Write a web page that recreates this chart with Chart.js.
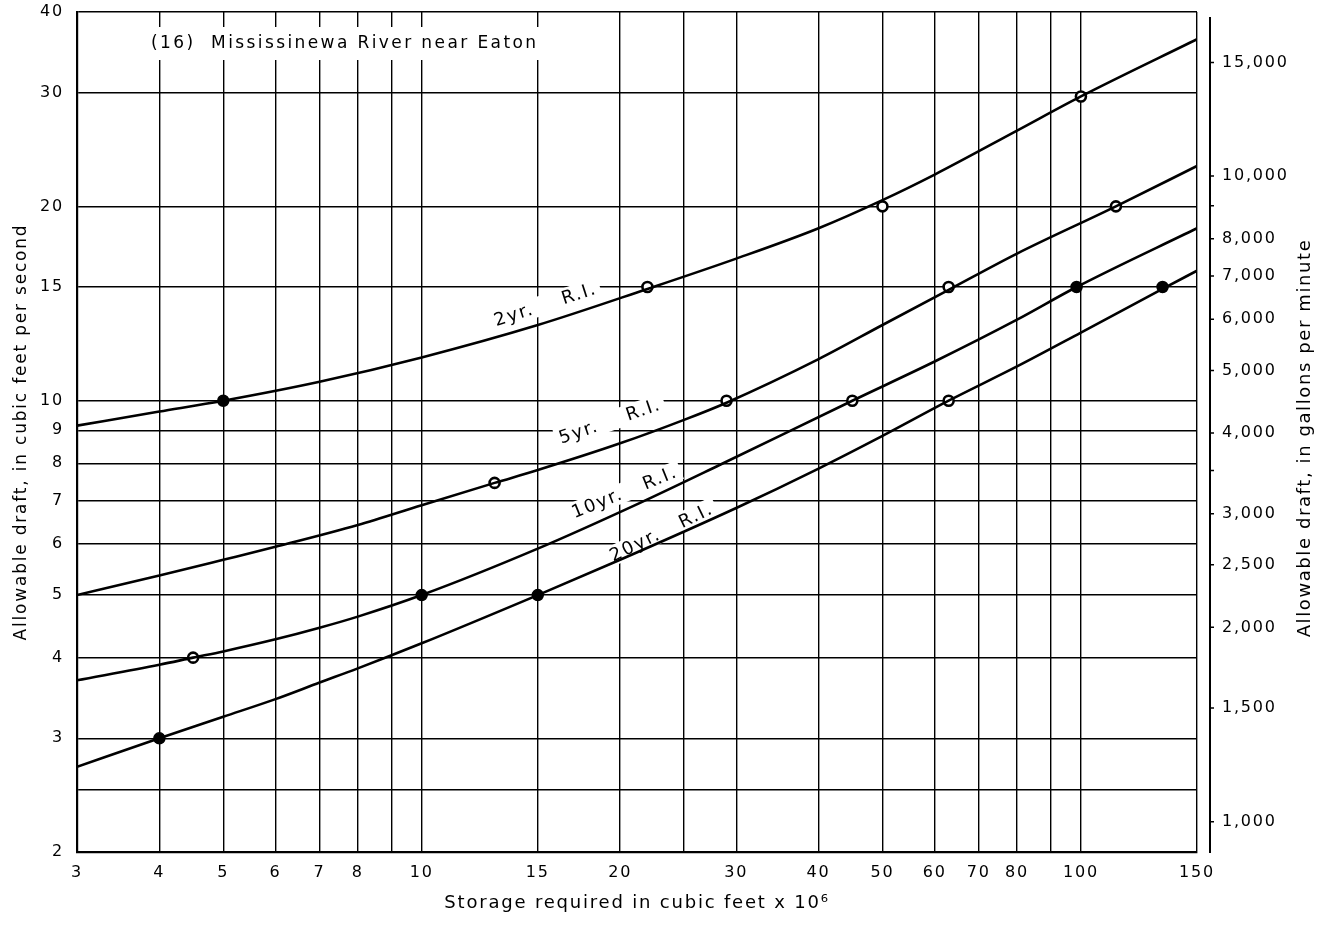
<!DOCTYPE html>
<html>
<head>
<meta charset="utf-8">
<script src="https://cdn.jsdelivr.net/npm/chart.js@4.4.1/dist/chart.umd.min.js"></script>
<style>
  html, body { margin: 0; padding: 0; background: #fff; }
  #wrap { width: 1325px; height: 930px; }
</style>
</head>
<body>
<div id="wrap"><canvas id="chart"></canvas></div>
<script>
// Axis grid and tick labels
const xGridValues = [3, 4, 5, 6, 7, 8, 9, 10, 15, 20, 25, 30, 40, 50, 60, 70, 80, 90, 100, 150];
const xTickLabels = [3, 4, 5, 6, 7, 8, 10, 15, 20, 30, 40, 50, 60, 70, 80, 100, 150];
const yGridValues = [2, 2.5, 3, 4, 5, 6, 7, 8, 9, 10, 15, 20, 30, 40];
const yTickLabels = [2, 3, 4, 5, 6, 7, 8, 9, 10, 15, 20, 30, 40];
const gpmTicks = [1000, 1500, 2000, 2500, 3000, 3500, 4000, 5000, 6000, 7000, 8000, 9000, 10000, 15000];
const gpmLabels = [1000, 1500, 2000, 2500, 3000, 4000, 5000, 6000, 7000, 8000, 10000, 15000];
const GPM_PER_CFS = 448.83;

// Curves (storage x 10^6 cu ft, draft cfs)
const ri2x = [3, 4, 5, 7, 10, 15, 22, 30, 40, 50, 60, 80, 100, 150];
const ri2y = [9.15, 9.62, 10.0, 10.7, 11.67, 13.1, 14.9, 16.6, 18.5, 20.45, 22.4, 26.2, 29.6, 36.3];
const ri5x = [3, 4, 5, 6, 8, 10, 12.9, 15, 20, 25, 29, 40, 50, 63, 80, 113, 150];
const ri5y = [5.0, 5.36, 5.67, 5.94, 6.42, 6.89, 7.46, 7.81, 8.59, 9.34, 9.93, 11.6, 13.1, 14.85, 16.9, 20.0, 23.1];
const ri10x = [3, 4, 4.5, 5, 6, 7, 8, 10, 15, 21.4, 28.3, 45, 60, 80, 98.5, 150];
const ri10y = [3.69, 3.90, 4.0, 4.09, 4.27, 4.45, 4.63, 5.0, 5.9, 6.94, 7.95, 10.0, 11.5, 13.35, 15.0, 18.5];
const ri20x = [3, 4, 5, 6, 7, 8, 10, 15, 20, 30, 40, 50, 63, 80, 100, 133, 150];
const ri20y = [2.71, 3.0, 3.24, 3.45, 3.66, 3.85, 4.21, 5.0, 5.67, 6.82, 7.85, 8.82, 10.0, 11.3, 12.75, 14.9, 15.9];

// Plotted points
const openX = [22, 50, 100, 12.9, 29, 63, 113, 4.5, 45, 63];
const openY = [15, 20, 29.6, 7.46, 10, 15, 20, 4.0, 10, 10];
const solidX = [5, 10, 15, 4, 98.5, 133];
const solidY = [10, 5, 5, 3, 15, 15];

// Curve labels: text, position (data units), rotation in degrees
const curveLabels = [
  { text: "2yr.    R.I.", x: 15.4, y: 14.1, angle: -18 },
  { text: "5yr.    R.I.", x: 19.3, y: 9.3, angle: -19 },
  { text: "10yr.   R.I.", x: 20.3, y: 7.22, angle: -22 },
  { text: "20yr.   R.I.", x: 23.1, y: 6.26, angle: -26 },
];

const titleText = "(16)  Mississinewa River near Eaton";
const FONT = "'DejaVu Sans', sans-serif";

function pts(xs, ys) {
  return xs.map((x, i) => ({ x: x, y: ys[i] }));
}

function curve(xs, ys) {
  return {
    data: pts(xs, ys),
    showLine: true,
    borderColor: "#000",
    borderWidth: 2.6,
    pointRadius: 0,
    cubicInterpolationMode: "monotone",
    fill: false,
  };
}

// no extra room for the end labels, the plot box is fixed
function noPad(scale) {
  scale.paddingTop = 0;
  scale.paddingBottom = 0;
  scale.paddingLeft = 0;
  scale.paddingRight = 0;
}

// Letter spacing to mimic the wide drafting lettering
const spacingPlugin = {
  id: "spacing",
  beforeDraw(chart) {
    chart.ctx.letterSpacing = "1.8px";
  },
};

// White boxes behind labels (break the grid), then the text
const labelsPlugin = {
  id: "labels",
  beforeDatasetsDraw(chart) {
    const { ctx, scales } = chart;
    ctx.save();
    ctx.letterSpacing = "1.8px";
    ctx.font = "18px " + FONT;
    ctx.textAlign = "center";
    ctx.textBaseline = "middle";
    curveLabels.forEach((lb) => {
      const px = scales.x.getPixelForValue(lb.x);
      const py = scales.y.getPixelForValue(lb.y);
      const w = ctx.measureText(lb.text).width;
      ctx.save();
      ctx.translate(px, py);
      ctx.rotate((lb.angle * Math.PI) / 180);
      ctx.fillStyle = "#fff";
      ctx.fillRect(-w / 2 - 4, -10, w + 8, 20);
      ctx.fillStyle = "#000";
      ctx.fillText(lb.text, 0, 1);
      ctx.restore();
    });

    // chart title box
    ctx.letterSpacing = "2.4px";
    ctx.font = "17px " + FONT;
    ctx.textAlign = "left";
    const tw = ctx.measureText(titleText).width;
    ctx.fillStyle = "#fff";
    ctx.fillRect(145, 27, tw + 10, 33);
    ctx.fillStyle = "#000";
    ctx.fillText(titleText, 151, 44);
    ctx.restore();
  },
};

// Right-hand gallons-per-minute axis: detached line, ticks and title
const rightAxisPlugin = {
  id: "rightAxis",
  afterDraw(chart) {
    const { ctx, chartArea } = chart;
    const y2 = chart.scales.y2;
    const ax = chartArea.right + 13;
    ctx.save();
    ctx.strokeStyle = "#000";
    ctx.lineWidth = 2;
    ctx.beginPath();
    ctx.moveTo(ax, chartArea.top + 5);
    ctx.lineTo(ax, chartArea.bottom + 1);
    ctx.stroke();
    ctx.lineWidth = 1.5;
    ctx.beginPath();
    gpmTicks.forEach((v) => {
      const py = y2.getPixelForValue(v);
      ctx.moveTo(ax, py);
      ctx.lineTo(ax + 4, py);
    });
    ctx.stroke();

    ctx.letterSpacing = "1.6px";
    ctx.font = "18px " + FONT;
    ctx.fillStyle = "#000";
    ctx.textAlign = "center";
    ctx.textBaseline = "middle";
    ctx.translate(1305, 438);
    ctx.rotate(-Math.PI / 2);
    ctx.fillText("Allowable draft, in gallons per minute", 0, 0);
    ctx.restore();
  },
};

const ctx = document.getElementById("chart").getContext("2d");

new Chart(ctx, {
  type: "scatter",
  data: {
    datasets: [
      curve(ri2x, ri2y),
      curve(ri5x, ri5y),
      curve(ri10x, ri10y),
      curve(ri20x, ri20y),
      {
        data: pts(openX, openY),
        pointRadius: 5,
        pointBorderWidth: 2.6,
        pointBackgroundColor: "#fff",
        pointBorderColor: "#000",
      },
      {
        data: pts(solidX, solidY),
        pointRadius: 5.5,
        pointBorderWidth: 1.5,
        pointBackgroundColor: "#000",
        pointBorderColor: "#000",
      },
    ],
  },
  options: {
    responsive: true,
    maintainAspectRatio: false,
    animation: false,
    layout: { padding: { top: 12, left: 0, right: 0, bottom: 0 } },
    plugins: {
      legend: { display: false },
      tooltip: { enabled: false },
    },
    scales: {
      x: {
        type: "logarithmic",
        position: "bottom",
        min: 3,
        max: 150,
        afterBuildTicks: (scale) => {
          scale.ticks = xGridValues.map((v) => ({ value: v }));
        },
        afterFit: (scale) => {
          scale.height = 78;
          noPad(scale);
        },
        ticks: {
          autoSkip: false,
          maxRotation: 0,
          minRotation: 0,
          padding: 11,
          color: "#000",
          font: { family: FONT, size: 16 },
          callback: (v) => (xTickLabels.includes(v) ? String(v) : ""),
        },
        grid: { color: "#000", lineWidth: 1.4, drawTicks: false },
        border: { color: "#000", width: 2.2 },
        title: {
          display: true,
          text: "Storage required in cubic feet x 10\u2076",
          color: "#000",
          font: { family: FONT, size: 18 },
          padding: { top: 0, bottom: 16 },
        },
      },
      y: {
        type: "logarithmic",
        position: "left",
        min: 2,
        max: 40,
        afterBuildTicks: (scale) => {
          scale.ticks = yGridValues.map((v) => ({ value: v }));
        },
        afterFit: (scale) => {
          scale.width = 77;
          noPad(scale);
        },
        ticks: {
          autoSkip: false,
          padding: 13,
          color: "#000",
          font: { family: FONT, size: 16 },
          callback: (v) => (yTickLabels.includes(v) ? String(v) : ""),
        },
        grid: { color: "#000", lineWidth: 1.4, drawTicks: false },
        border: { color: "#000", width: 2.2 },
        title: {
          display: true,
          text: "Allowable draft, in cubic feet per second",
          color: "#000",
          font: { family: FONT, size: 17 },
          padding: { top: 11, bottom: 0 },
        },
      },
      y2: {
        type: "logarithmic",
        position: "right",
        min: 2 * GPM_PER_CFS,
        max: 40 * GPM_PER_CFS,
        afterBuildTicks: (scale) => {
          scale.ticks = gpmTicks.map((v) => ({ value: v }));
        },
        afterFit: (scale) => {
          scale.width = 128;
          noPad(scale);
        },
        ticks: {
          autoSkip: false,
          padding: 25,
          color: "#000",
          font: { family: FONT, size: 16 },
          callback: (v) => (gpmLabels.includes(v) ? v.toLocaleString("en-US") : ""),
        },
        grid: { display: false, drawOnChartArea: false, drawTicks: false },
        border: { display: false },
      },
    },
  },
  plugins: [spacingPlugin, labelsPlugin, rightAxisPlugin],
});
</script>
</body>
</html>
